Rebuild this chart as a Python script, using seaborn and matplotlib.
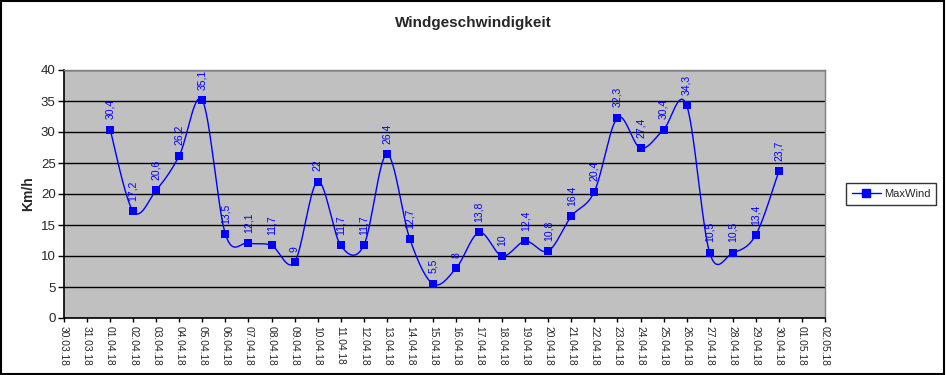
import numpy as np
import pandas as pd
import matplotlib
matplotlib.use("Agg")
import matplotlib.pyplot as plt
import seaborn as sns
from matplotlib.lines import Line2D
from matplotlib.patches import Rectangle

# ---- data ----
tick_dates = pd.date_range("2018-03-30", "2018-05-02", freq="D")
tick_labels = [d.strftime("%d.%m.%y") for d in tick_dates]
data_dates = pd.date_range("2018-04-01", "2018-04-30", freq="D")
max_wind = [30.4, 17.2, 20.6, 26.2, 35.1, 13.5, 12.1, 11.7, 9, 22,
            11.7, 11.7, 26.4, 12.7, 5.5, 8, 13.8, 10, 12.4, 10.8,
            16.4, 20.4, 32.3, 27.4, 30.4, 34.3, 10.5, 10.5, 13.4, 23.7]
series_name = "MaxWind"
title = "Windgeschwindigkeit"
y_label = "Km/h"

sns.set_theme(style="white")
plt.rcParams["font.family"] = ["Liberation Sans", "DejaVu Sans"]

day0 = tick_dates[0]
xpos = np.array([(d - day0).days for d in data_dates], dtype=float)
yv = np.array(max_wind, dtype=float)
df = pd.DataFrame({"x": xpos, "y": yv, "series": series_name})

fig = plt.figure(figsize=(9.46, 3.75), dpi=100)
ax = fig.add_axes([64 / 946, 57 / 375, 761 / 946, 248 / 375])
ax.set_facecolor("#C0C0C0")

# Smooth (Excel-like Catmull-Rom Bezier) curve through the points
xmax = len(tick_dates) - 1
sx = 761 / xmax
sy = 248 / 40.0
px, py = xpos * sx, yv * sy
cx, cy = [], []
n = len(px)
t = np.linspace(0, 1, 30)
for i in range(n - 1):
    p0 = np.array([px[max(i - 1, 0)], py[max(i - 1, 0)]])
    p1 = np.array([px[i], py[i]])
    p2 = np.array([px[i + 1], py[i + 1]])
    p3 = np.array([px[min(i + 2, n - 1)], py[min(i + 2, n - 1)]])
    c1 = p1 + (p2 - p0) / 6.0
    c2 = p2 - (p3 - p1) / 6.0
    b = (np.outer((1 - t) ** 3, p1) + np.outer(3 * (1 - t) ** 2 * t, c1)
         + np.outer(3 * (1 - t) * t ** 2, c2) + np.outer(t ** 3, p2))
    cx.extend(b[:, 0] / sx)
    cy.extend(b[:, 1] / sy)
ax.plot(cx, cy, color="#0000FF", lw=1.0, zorder=3)
sns.scatterplot(data=df, x="x", y="y", marker="s", color="#0000FF", s=34,
                edgecolor="#0000FF", linewidth=0, ax=ax, zorder=4, legend=False)

for x, y in zip(xpos, yv):
    lab = f"{y:g}".replace(".", ",")
    ax.annotate(lab, (x, y), xytext=(0, 7.5), textcoords="offset points",
                rotation=90, ha="center", va="bottom", fontsize=7.5,
                color="#0000FF", zorder=5, annotation_clip=False)

ax.set_xlim(0, xmax)
ax.set_ylim(0, 40)
ax.set_yticks(range(0, 41, 5))
ax.set_yticklabels([str(v) for v in range(0, 41, 5)], fontsize=9.5)
ax.set_xticks(range(len(tick_labels)))
ax.set_xticklabels(tick_labels, rotation=270, fontsize=7.4)
ax.yaxis.grid(True, color="black", lw=1.0)
ax.set_axisbelow(True)
ax.tick_params(axis="both", which="both", direction="out", length=4,
               width=1, color="black", pad=2, left=True, bottom=True)
ax.tick_params(axis="x", length=3, pad=3)
for side in ["left", "bottom"]:
    ax.spines[side].set_color("black")
    ax.spines[side].set_linewidth(1.2)
for side in ["top", "right"]:
    ax.spines[side].set_color("#808080")
    ax.spines[side].set_linewidth(1.0)
ax.set_xlabel("")
ax.set_ylabel(y_label, fontsize=10, fontweight="bold", labelpad=4)

fig.text(0.5, 1 - 23 / 375, title, ha="center", va="center",
         fontsize=11, fontweight="bold")

handle = Line2D([], [], color="#0000FF", lw=1, marker="s", markersize=6)
leg = fig.legend([handle], [series_name], loc="center",
                 bbox_to_anchor=(891 / 946, 1 - 194 / 375), fontsize=8,
                 frameon=True, fancybox=False, handlelength=2.6,
                 borderpad=0.5, handletextpad=0.3)
leg.get_frame().set_edgecolor("black")
leg.get_frame().set_linewidth(1)

fig.patches.append(Rectangle((0.001, 0.002), 0.997, 0.996, transform=fig.transFigure,
                             fill=False, edgecolor="black", lw=1.5))
fig.savefig("out.png", dpi=100)
